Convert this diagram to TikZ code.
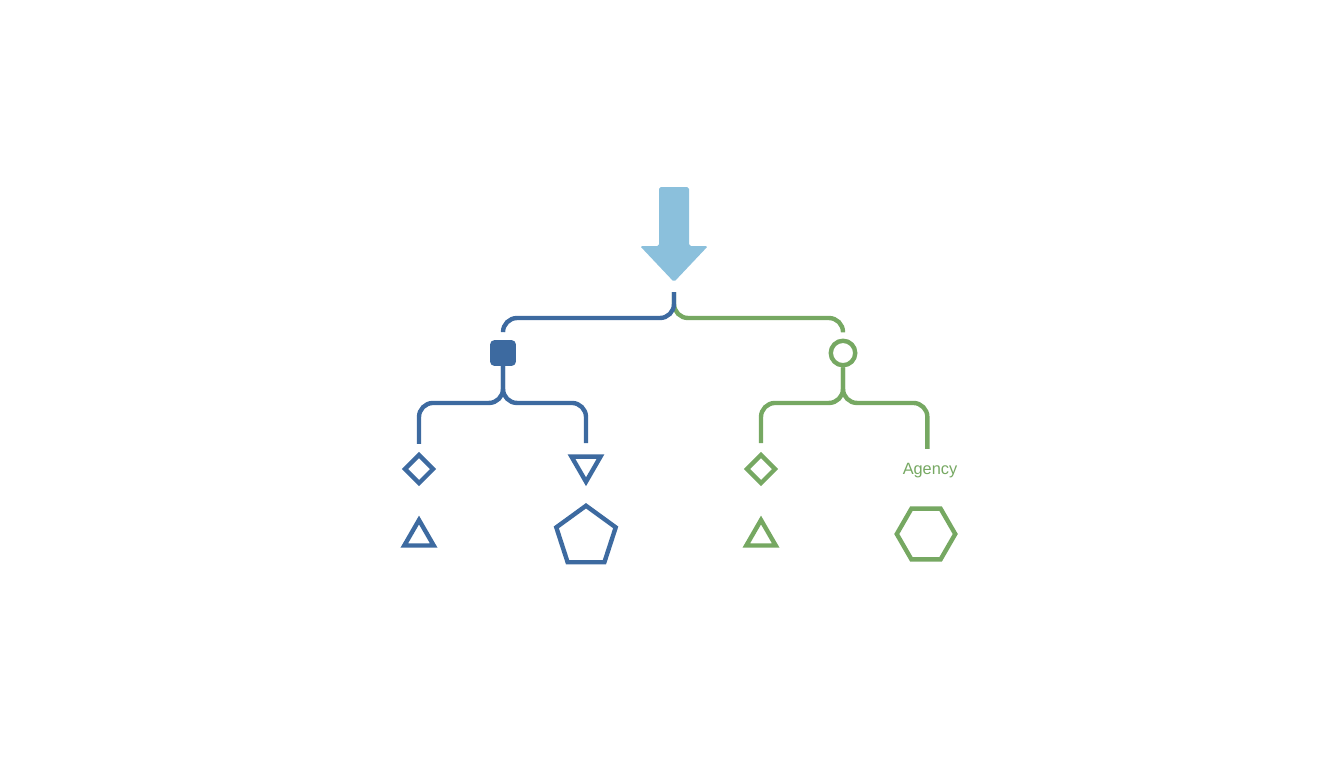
\documentclass[tikz,border=0pt]{standalone}
\usepackage{fontspec}
\setmainfont{Liberation Sans}
\usetikzlibrary{shapes.geometric}

\definecolor{treeblue}{HTML}{3D6AA0}
\definecolor{treegreen}{HTML}{76A862}
\definecolor{arrowblue}{HTML}{8BC0DC}

\begin{document}
\begin{tikzpicture}[x=0.02cm, y=-0.02cm]
\footnotesize

\tikzstyle{bluelink}  = [draw=treeblue, line width=2.5pt, rounded corners=8pt]
\tikzstyle{greenlink} = [draw=treegreen, line width=2.5pt, rounded corners=8pt]
\tikzstyle{bluesym}   = [draw=treeblue, line width=2.5pt, inner sep=0pt, fill=white]
\tikzstyle{greensym}  = [draw=treegreen, line width=2.5pt, inner sep=0pt, fill=white]
\tikzstyle{lbl}       = [text=treegreen, font=\fontsize{9.3}{11}\selectfont]

\useasboundingbox (0,0) rectangle (1344,768);

% big arrow on top
\fill [arrowblue, rounded corners=1pt]
  (659,187) -- (689,187) -- (689,246) -- (708,246) -- (674,282)
  -- (640,246) -- (659,246) -- cycle;
\coordinate (Fork) at (674,292);

% first level
\node [bluesym, fill=treeblue, rectangle, rounded corners=1.5pt, minimum size=0.43cm] (Square) at (503,353) {};
\node [greensym, circle, minimum size=0.49cm] (Ring) at (843,353) {};

% second level
\node [bluesym, diamond, minimum size=0.6cm] (DiamL) at (419,469) {};
\node [bluesym, regular polygon, regular polygon sides=3, shape border rotate=180, minimum size=0.67cm] (TriDown) at (586,465) {};
\node [greensym, diamond, minimum size=0.6cm] (DiamR) at (761,469) {};
\node [lbl] (Agency) at (930,471) {Agency};

% loose shapes below
\node [bluesym, regular polygon, regular polygon sides=3, minimum size=0.68cm] (TriL) at (419,537) {};
\node [bluesym, regular polygon, regular polygon sides=5, minimum size=1.25cm] (Penta) at (586,537) {};
\node [greensym, regular polygon, regular polygon sides=3, minimum size=0.68cm] (TriR) at (761,537) {};
\node [greensym, regular polygon, regular polygon sides=6, minimum size=1.17cm] (Hexa) at (926,534) {};

% braces
\draw [greenlink, shorten >=3.5pt] (Fork) -- ++(0,26) -| (Ring.north);
\draw [bluelink, shorten >=4.5pt] (Fork) -- ++(0,26) -| (Square.north);

\draw [bluelink, shorten >=4.5pt] (Square.south) -- ++(0,37) -| (DiamL.north);
\draw [bluelink, shorten >=6.5pt] (Square.south) -- ++(0,37) -| (TriDown.north);

\draw [greenlink, shorten >=5pt] (Ring.south) -- ++(0,35.5) -| (DiamR.north);
\draw [greenlink, shorten >=5.5pt] (Ring.south) -- ++(0,35.5) -| ([xshift=-1.5pt]Agency.north);
\end{tikzpicture}
\end{document}
